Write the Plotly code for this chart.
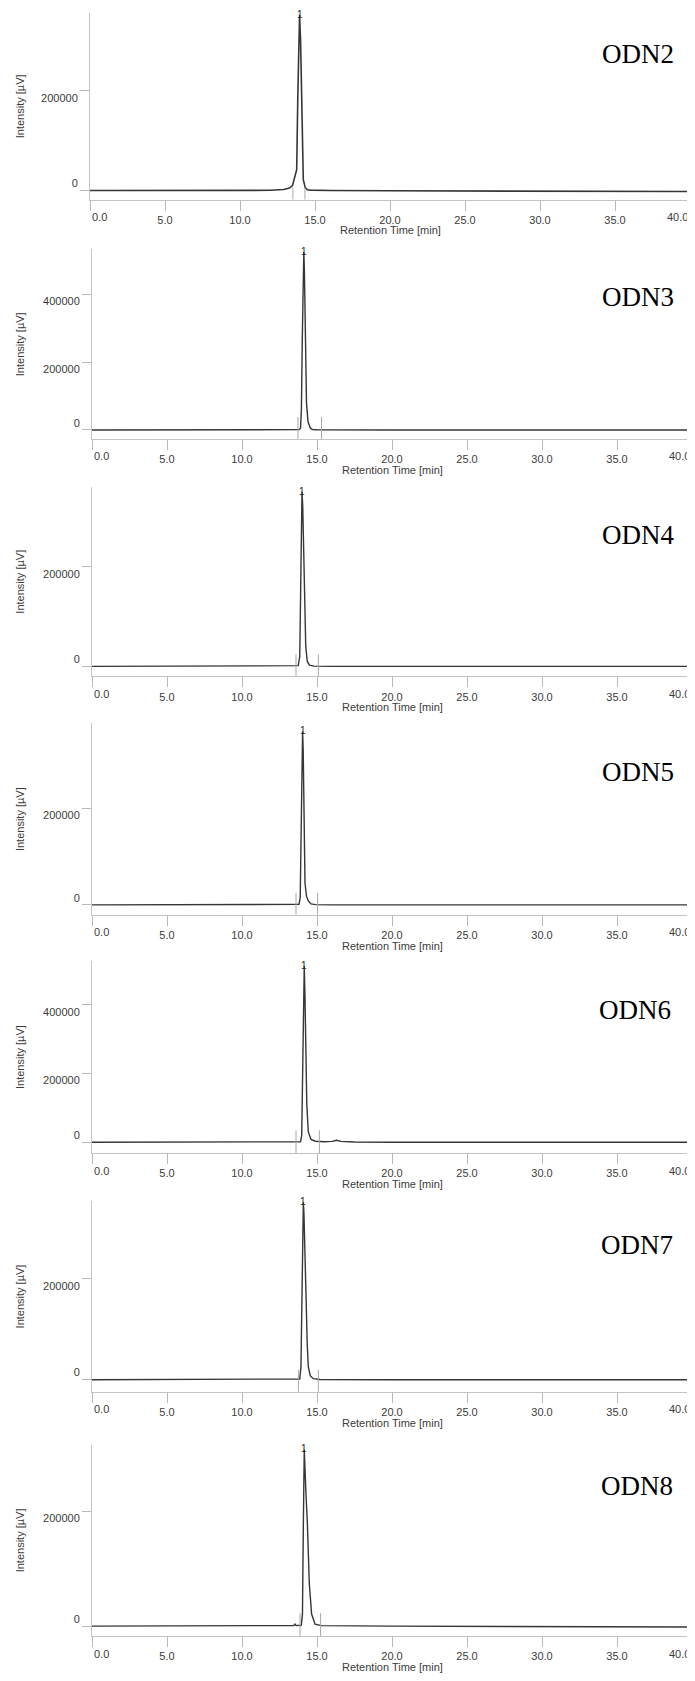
import plotly.graph_objects as go
import numpy as np

# ---------------- data ----------------
samples = ["ODN2", "ODN3", "ODN4", "ODN5", "ODN6", "ODN7", "ODN8"]

rt_odn2 = [0, 1.8, 2.0, 2.3, 5.0, 8.8, 9.4, 10.0, 12.0, 12.9, 13.3, 13.5, 13.62, 13.78, 13.85,
           13.97, 14.04, 14.11, 14.22, 14.35, 14.5, 14.7, 16.0, 20.0, 25.0, 30.0, 35.0, 40.0]
uv_odn2 = [0, 0, 1500, 0, 0, 500, 1500, 800, 500, 2000, 5000, 10000, 22000, 42000, 182000,
           352000, 300000, 182000, 22000, 6000, 1500, 800, 0, -500, -1000, -1500, -2000, -2000]

rt_odn3 = [0, 1.8, 2.0, 2.3, 5.0, 5.3, 5.6, 10.0, 13.0, 13.8, 13.9, 13.96, 14.02, 14.08, 14.12,
           14.16, 14.22, 14.3, 14.4, 14.55, 14.7, 15.0, 20.0, 30.0, 40.0]
uv_odn3 = [0, 0, 1000, 0, 0, 600, 0, 0, 0, 1000, 5000, 60000, 270000, 480000, 525000,
           470000, 270000, 80000, 25000, 6000, 1500, 500, 0, 0, 0]

rt_odn4 = [0, 1.8, 2.0, 2.3, 5.0, 10.0, 13.0, 13.75, 13.85, 13.92, 13.97, 14.0, 14.05, 14.1,
           14.17, 14.25, 14.35, 14.5, 14.8, 16.0, 20.0, 30.0, 40.0]
uv_odn4 = [0, 0, 1000, 0, 0, 0, 0, 1500, 20000, 200000, 340000, 350000, 320000, 260000,
           120000, 40000, 10000, 2500, 500, 0, 0, 0, 0]

rt_odn5 = [0, 1.8, 2.0, 2.3, 5.2, 5.5, 5.8, 6.1, 6.5, 6.8, 10.0, 13.0, 13.8, 13.88, 13.95, 14.0,
           14.04, 14.08, 14.13, 14.2, 14.3, 14.42, 14.6, 14.9, 16.0, 20.0, 30.0, 40.0]
uv_odn5 = [0, 0, 800, 0, 0, 1200, 300, 1000, 1200, 0, 0, 0, 1000, 15000, 230000, 340000,
           359000, 320000, 180000, 45000, 18000, 8000, 2000, 500, 0, 0, 0, 0]

rt_odn6 = [0, 1.8, 2.0, 2.3, 2.8, 3.0, 3.2, 7.5, 10.0, 13.0, 13.9, 13.98, 14.05, 14.1, 14.15,
           14.2, 14.26, 14.32, 14.42, 14.6, 14.9, 15.5, 16.0, 16.3, 16.6, 17.5, 20.0, 30.0, 40.0]
uv_odn6 = [0, 0, 1500, 0, 0, 1000, 0, 1000, 1500, 1000, 1500, 20000, 250000, 470000, 512000,
           420000, 230000, 110000, 30000, 8000, 3000, 1500, 2500, 6000, 2500, 1000, 0, 0, 0]

rt_odn7 = [0, 2.0, 5.0, 10.0, 13.0, 13.85, 13.93, 14.0, 14.05, 14.09, 14.13, 14.2, 14.27, 14.35,
           14.42, 14.55, 14.75, 15.2, 20.0, 30.0, 40.0]
uv_odn7 = [0, 0, 0, 0, 0, 1500, 25000, 230000, 340000, 352000, 330000, 240000, 150000, 70000,
           26000, 8000, 2000, 500, 0, 0, 0]

rt_odn8 = [0, 2.0, 5.0, 10.0, 13.0, 13.45, 13.53, 13.6, 13.95, 14.03, 14.09, 14.15, 14.25, 14.36,
           14.49, 14.64, 14.87, 15.3, 20.0, 30.0, 40.0]
uv_odn8 = [0, 0, 0, 0, 500, 1000, 3500, 1000, 1500, 20000, 177000, 308000, 240000, 177000,
           73000, 21000, 3500, 800, 0, -1000, -1500]

retention_times = [rt_odn2, rt_odn3, rt_odn4, rt_odn5, rt_odn6, rt_odn7, rt_odn8]
intensities = [uv_odn2, uv_odn3, uv_odn4, uv_odn5, uv_odn6, uv_odn7, uv_odn8]

peak_start = [13.53, 13.73, 13.60, 13.60, 13.60, 13.76, 13.87]
peak_end = [14.33, 15.30, 15.09, 15.04, 15.16, 15.09, 15.24]
peak_number = ["1", "1", "1", "1", "1", "1", "1"]

x_tick_values = [0, 5, 10, 15, 20, 25, 30, 35, 40]
x_tick_labels = ["0.0", "5.0", "10.0", "15.0", "20.0", "25.0", "30.0", "35.0", "40.0"]
y_tick_values = [[0, 200000], [0, 200000, 400000], [0, 200000], [0, 200000],
                 [0, 200000, 400000], [0, 200000], [0, 200000]]
y_tick_labels = [["0", "200000"], ["0", "200000", "400000"], ["0", "200000"], ["0", "200000"],
                 ["0", "200000", "400000"], ["0", "200000"], ["0", "200000"]]
y_ranges = [(-18000, 356000), (-26470, 532350), (-20000, 360000), (-20619, 375257),
            (-31884, 527536), (-23762, 354456), (-17391, 316522)]

x_title = "Retention Time [min]"
y_title = "Intensity [µV]"

# ---------------- layout (screen pixels) ----------------
# the page body keeps the browser's default 8 px margin, so the figure starts at (8, 8)
OFF = 8
W, H = 695 - OFF, 1681 - OFF


def fx(px):
    return (px - OFF) / W


def fy(py):
    return 1 - (py - OFF) / H


axis_bottom_px = [200, 440, 678, 917, 1156, 1395, 1640]
panel_h_px = [187, 190, 190, 192, 193, 191, 192]
x_left_px = [90, 92, 92, 92, 92, 92, 92]
marker_px = [12, 22, 22, 22, 23, 22, 23]
label_pos_px = [(638, 54), (638, 298), (638, 536), (638, 774), (635, 1012), (637, 1248), (637, 1490)]

axis_grey = "#c4c4c4"
tick_grey = "#b8b8b8"
text_grey = "#3c3c3c"
line_col = "#363636"
sans = "Liberation Sans, Arial, sans-serif"
tick_font = dict(family=sans, size=11, color=text_grey)

fig = go.Figure()
annotations = []
shapes = []
layout_axes = {}

for i, name in enumerate(samples):
    n = "" if i == 0 else str(i + 1)
    xa, ya = "x" + n, "y" + n
    A = axis_bottom_px[i]
    ph = panel_h_px[i]
    x0 = x_left_px[i]
    xdom = [fx(x0), fx(x0 + 600)]

    fig.add_trace(go.Scatter(
        x=retention_times[i], y=intensities[i], mode="lines",
        line=dict(color=line_col, width=1.6 if i == 0 else 1.4),
        xaxis=xa, yaxis=ya, showlegend=False, hoverinfo="skip"))

    # middle tick labels on the axis itself; the end labels are kept inside the axis span
    xt = [""] + list(x_tick_labels[1:-1]) + [""]
    yt = ["0<br>\u00a0" if v == 0 else "\u00a0<br>" + lab
          for v, lab in zip(y_tick_values[i], y_tick_labels[i])]

    layout_axes["xaxis" + n] = dict(
        domain=xdom, range=[0, 40], anchor=ya,
        showline=True, linecolor=axis_grey, linewidth=1,
        ticks="outside", ticklen=10, tickcolor=tick_grey, tickwidth=1,
        tickvals=x_tick_values, ticktext=xt, showgrid=False, zeroline=False,
        tickfont=tick_font, fixedrange=True)
    layout_axes["yaxis" + n] = dict(
        domain=[fy(A), fy(A - ph)], range=list(y_ranges[i]), anchor=xa,
        showline=True, linecolor=axis_grey, linewidth=1,
        ticks="outside", ticklen=9, tickcolor=tick_grey, tickwidth=1,
        tickvals=y_tick_values[i], ticktext=yt, showgrid=False, zeroline=False,
        ticklabeloverflow="allow", tickfont=tick_font, fixedrange=True)

    # end tick labels: first left-aligned at its tick, last right-aligned at its tick
    annotations.append(dict(
        text=x_tick_labels[0], xref=xa, yref="paper", x=x_tick_values[0], y=fy(A + 17.5),
        xanchor="left", yanchor="middle", showarrow=False, font=tick_font))
    annotations.append(dict(
        text=x_tick_labels[-1], xref=xa, yref="paper", x=x_tick_values[-1], y=fy(A + 17.5),
        xanchor="right", yanchor="middle", showarrow=False, font=tick_font))

    # sample label
    lx, ly = label_pos_px[i]
    annotations.append(dict(
        text=name, xref="paper", yref="paper", x=fx(lx), y=fy(ly),
        xanchor="center", yanchor="middle", showarrow=False,
        font=dict(family="Liberation Serif, Times New Roman, serif", size=27, color="#000000")))
    # y axis title
    annotations.append(dict(
        text=y_title, xref="paper", yref="paper", x=fx(20), y=fy(A - ph / 2),
        xanchor="center", yanchor="middle", textangle=-90, showarrow=False,
        font=dict(family=sans, size=11, color=text_grey)))
    # x axis title
    annotations.append(dict(
        text=x_title, xref=xa, yref="paper", x=20, y=fy(A + 31),
        xanchor="center", yanchor="middle", showarrow=False,
        font=dict(family=sans, size=11, color=text_grey)))
    # peak number at apex
    k = int(np.argmax(intensities[i]))
    annotations.append(dict(
        text=peak_number[i], xref=xa, yref=ya, x=retention_times[i][k], y=intensities[i][k],
        xanchor="center", yanchor="bottom", yshift=-7, showarrow=False,
        font=dict(family=sans, size=10, color="#222222")))
    # peak start / end markers
    for t in (peak_start[i], peak_end[i]):
        shapes.append(dict(
            type="line", xref=xa, yref=ya + " domain", x0=t, x1=t, y0=0, y1=marker_px[i] / ph,
            line=dict(color="#a8a8a8", width=1)))

fig.update_layout(
    width=W, height=H, margin=dict(l=0, r=0, t=0, b=0),
    paper_bgcolor="white", plot_bgcolor="white",
    annotations=annotations, shapes=shapes, **layout_axes)

fig.write_html("out.html")
